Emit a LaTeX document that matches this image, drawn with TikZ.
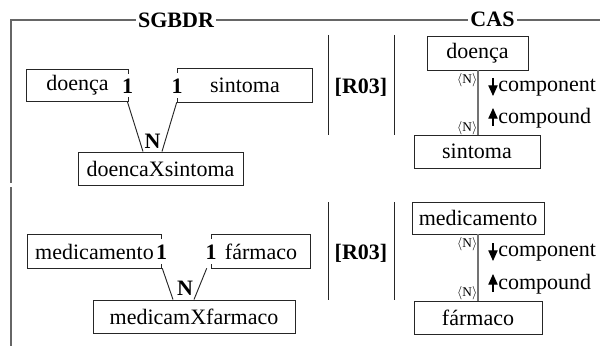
\documentclass[tikz,border=0pt]{standalone}
\usepackage{fontspec}
\setmainfont{Liberation Serif}
\usetikzlibrary{calc,arrows.meta}
\begin{document}
\begin{tikzpicture}[x=0.75pt,y=-0.75pt,
  every node/.style={font=\fontsize{16.5}{18}\selectfont, inner sep=0pt},
  frame/.style={draw=black!60, line width=0.9pt},
  boxline/.style={draw=black!85, line width=0.7pt},
  ent/.style={boxline, rectangle},
  openent/.style={rectangle},
  card/.style={font=\fontsize{16.5}{18}\selectfont\bfseries},
  title/.style={font=\fontsize{16.5}{18}\selectfont\bfseries, fill=white, inner xsep=1.5pt},
  rule/.style={font=\fontsize{16.5}{18}\selectfont\bfseries},
  link/.style={draw=black!55, line width=1pt},
  mult/.style={font=\fontsize{10}{11}\selectfont, anchor=east},
  role/.style={anchor=west},
  rolearrow/.style={-{Triangle[length=8pt,width=7pt]}, line width=0.8pt},
  conn/.style={draw=black!85, line width=0.7pt}
]
\useasboundingbox (0,0) rectangle (600,346);

% outer frame
\coordinate (ftl) at (11,20);
\coordinate (ftr) at (600,20);
\coordinate (fgapA) at (11,183);
\coordinate (fgapB) at (11,187);
\coordinate (fbot) at (11,346);
\draw[frame] (fbot) -- (fgapB);
\draw[frame] (fgapA) -- (ftl) -- (ftr);
\node[title] (tsgbdr) at (176,20) {SGBDR};
\node[title] (tcas) at (492.5,19) {CAS};

% ---------- first relation: doenca / sintoma ----------
\node[openent, minimum width={101*0.75pt}, minimum height={31*0.75pt}] (d1) at (77.5,85.5) {doença};
\node[openent, minimum width={134*0.75pt}, minimum height={33*0.75pt}] (s1) at (245,85.5) {sintoma};
\draw[boxline] ($(d1.north east)+(0,4)$) -- (d1.north east) -- (d1.north west)
  -- (d1.south west) -- (d1.south east) -- ++(0,-4);
\draw[boxline] ($(s1.north west)+(0,4)$) -- (s1.north west) -- (s1.north east)
  -- (s1.south east) -- (s1.south west) -- ++(0,-4);
\node[card] (d1c) at (127.5,86) {1};
\node[card] (s1c) at (177,86) {1};
\node[ent, minimum width={165*0.75pt}, minimum height={33*0.75pt}] (dx) at (160.5,168.5) {doencaXsintoma};
\coordinate (dxa) at ($(dx.north)+(-17.5,0)$);
\coordinate (dxb) at ($(dx.north)+(1.5,0)$);
\draw[conn] ($(d1.south east)+(-1,0)$) -- (dxa);
\draw[conn] ($(s1.south west)+(-1,0)$) -- (dxb);
\node[card] (n1) at (152.5,141) {N};

\node[rule] (r1) at (361,87) {[R03]};
\coordinate (v1a) at (328,35); \coordinate (v1b) at (328,135);
\coordinate (v2a) at (394,35); \coordinate (v2b) at (394,135);
\draw[conn] (v1a) -- (v1b);
\draw[conn] (v2a) -- (v2b);

\node[ent, minimum width={101*0.75pt}, minimum height={34*0.75pt}] (cd1) at (477.5,53) {doença};
\node[ent, minimum width={126*0.75pt}, minimum height={33*0.75pt}] (cs1) at (477,151.5) {sintoma};
\draw[link] (cd1.south -| 478,0) -- (cs1.north -| 478,0);
\node[mult] (m1a) at (477.5,80) {$\langle$N$\rangle$};
\node[mult] (m1b) at (477.5,128) {$\langle$N$\rangle$};
\node[role] (c1) at (498,88) {component};
\node[role] (p1) at (498,118) {compound};
\draw[rolearrow] ($(c1.west)+(-5,-10)$) -- ($(c1.west)+(-5,8)$);
\draw[rolearrow] ($(p1.west)+(-5,8)$) -- ($(p1.west)+(-5,-10)$);

% ---------- second relation: medicamento / farmaco ----------
\node[openent, minimum width={133*0.75pt}, minimum height={33*0.75pt}] (m2) at (94.5,251.5) {medicamento};
\node[openent, minimum width={98*0.75pt}, minimum height={33*0.75pt}] (f2) at (261,251.5) {fármaco};
\draw[boxline] ($(m2.north east)+(0,4)$) -- (m2.north east) -- (m2.north west)
  -- (m2.south west) -- (m2.south east) -- ++(0,-4);
\draw[boxline] ($(f2.north west)+(0,4)$) -- (f2.north west) -- (f2.north east)
  -- (f2.south east) -- (f2.south west) -- ++(0,-4);
\node[card] (m2c) at (161.5,252) {1};
\node[card] (f2c) at (211,252) {1};
\node[ent, minimum width={202*0.75pt}, minimum height={33*0.75pt}] (mx) at (194,316.5) {medicamXfarmaco};
\coordinate (mxa) at ($(mx.north)+(-21,0)$);
\coordinate (mxb) at ($(mx.north)+(0,0)$);
\draw[conn] ($(m2.south east)+(1,0)$) -- (mxa);
\draw[conn] ($(f2.south west)+(-5,0)$) -- (mxb);
\node[card] (n2) at (185,288) {N};

\node[rule] (r2) at (361,253) {[R03]};
\coordinate (v3a) at (328,202); \coordinate (v3b) at (328,300);
\coordinate (v4a) at (394,202); \coordinate (v4b) at (394,300);
\draw[conn] (v3a) -- (v3b);
\draw[conn] (v4a) -- (v4b);

\node[ent, minimum width={132*0.75pt}, minimum height={32*0.75pt}] (cm2) at (478,218) {medicamento};
\node[ent, minimum width={128*0.75pt}, minimum height={33*0.75pt}] (cf2) at (478,317.5) {fármaco};
\draw[link] (cm2.south) -- (cf2.north);
\node[mult] (m2a) at (477.5,244) {$\langle$N$\rangle$};
\node[mult] (m2b) at (477.5,293) {$\langle$N$\rangle$};
\node[role] (c2) at (498,253) {component};
\node[role] (p2) at (498,284) {compound};
\draw[rolearrow] ($(c2.west)+(-5,-10)$) -- ($(c2.west)+(-5,8)$);
\draw[rolearrow] ($(p2.west)+(-5,8)$) -- ($(p2.west)+(-5,-10)$);
\end{tikzpicture}
\end{document}
